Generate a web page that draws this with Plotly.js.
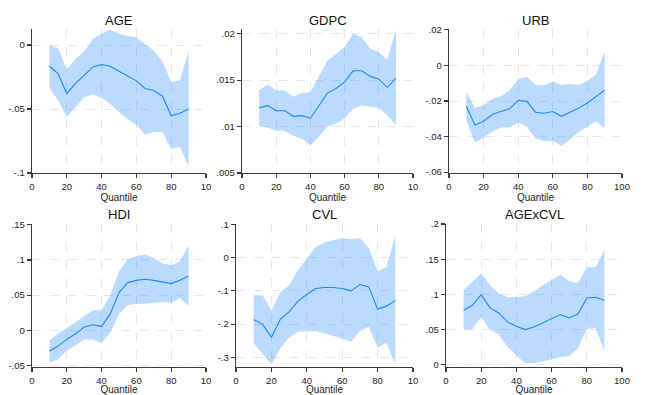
<!DOCTYPE html>
<html>
<head>
<meta charset="utf-8">
<script src="https://cdn.plot.ly/plotly-3.0.1.min.js"></script>
<style>html,body{margin:0;padding:0;background:#fff}#chart{width:645px;height:395px}</style>
</head>
<body>
<div id="chart"></div>
<script>
const quantiles = [10,15,20,25,30,35,40,45,50,55,60,65,70,75,80,85,90];

const ageCoef  = [-0.0166,-0.0224,-0.038,-0.030,-0.0237,-0.0171,-0.0153,-0.0166,-0.0205,-0.0245,-0.028,-0.034,-0.0355,-0.040,-0.0553,-0.0534,-0.050];
const ageUpper = [0.000,-0.0026,-0.019,-0.011,-0.005,0.0045,0.009,0.0118,0.009,0.007,0.0058,0.0005,-0.0045,-0.013,-0.029,-0.0276,-0.005];
const ageLower = [-0.0334,-0.0434,-0.056,-0.048,-0.0408,-0.0387,-0.0413,-0.046,-0.0526,-0.058,-0.0624,-0.070,-0.068,-0.068,-0.081,-0.0795,-0.0947];

const gdpcCoef  = [0.0120,0.01225,0.0117,0.0117,0.0111,0.01117,0.0109,0.0123,0.0136,0.0141,0.0148,0.0160,0.0160,0.0154,0.0151,0.0142,0.0152];
const gdpcUpper = [0.0139,0.0145,0.01387,0.01387,0.0132,0.0136,0.0137,0.0154,0.0171,0.0178,0.0186,0.0200,0.0196,0.0184,0.0180,0.0172,0.0204];
const gdpcLower = [0.0101,0.0099,0.00955,0.00955,0.0090,0.0087,0.0080,0.0089,0.0100,0.0103,0.0109,0.0119,0.0123,0.0121,0.0120,0.0112,0.0102];

const urbCoef  = [-0.023,-0.0335,-0.0314,-0.0276,-0.0259,-0.0244,-0.0196,-0.0202,-0.0263,-0.0269,-0.0259,-0.0286,-0.0263,-0.024,-0.0211,-0.0177,-0.0139];
const urbUpper = [-0.0149,-0.0238,-0.0225,-0.0187,-0.0173,-0.0139,-0.0076,-0.0063,-0.011,-0.011,-0.0091,-0.011,-0.0105,-0.011,-0.0086,-0.0053,0.008];
const urbLower = [-0.031,-0.0434,-0.0406,-0.0371,-0.0349,-0.0349,-0.032,-0.0345,-0.0411,-0.0425,-0.0425,-0.0453,-0.0415,-0.0373,-0.0345,-0.0314,-0.0354];

const hdiCoef  = [-0.0294,-0.0223,-0.0128,-0.0047,0.0047,0.008,0.0057,0.0237,0.0536,0.0678,0.071,0.0725,0.071,0.0687,0.0664,0.071,0.0773];
const hdiUpper = [-0.0142,-0.0047,0.0033,0.0118,0.0204,0.0284,0.0284,0.0498,0.0839,0.1005,0.1057,0.1076,0.1028,0.0948,0.0924,0.0981,0.1209];
const hdiLower = [-0.046,-0.0412,-0.0284,-0.0213,-0.0128,-0.0128,-0.018,-0.0033,0.0237,0.0355,0.0379,0.0379,0.0393,0.0403,0.0393,0.046,0.0346];

const cvlCoef  = [-0.186,-0.200,-0.240,-0.186,-0.163,-0.131,-0.111,-0.093,-0.090,-0.090,-0.093,-0.100,-0.081,-0.088,-0.155,-0.146,-0.129];
const cvlUpper = [-0.113,-0.113,-0.160,-0.105,-0.083,-0.038,-0.003,0.032,0.045,0.052,0.059,0.055,0.059,0.029,-0.041,-0.028,0.065];
const cvlLower = [-0.258,-0.288,-0.321,-0.273,-0.241,-0.223,-0.221,-0.221,-0.228,-0.235,-0.243,-0.253,-0.221,-0.208,-0.270,-0.256,-0.321];

const axcCoef  = [0.0775,0.0846,0.0998,0.0809,0.0738,0.061,0.0548,0.0501,0.0539,0.0596,0.0652,0.0714,0.0667,0.0723,0.095,0.096,0.0913];
const axcUpper = [0.1059,0.1177,0.1296,0.113,0.1012,0.096,0.096,0.0974,0.1045,0.113,0.121,0.1281,0.1187,0.1163,0.1385,0.1385,0.1636];
const axcLower = [0.0501,0.051,0.0681,0.0501,0.043,0.0255,0.0132,0.0024,0.0028,0.0052,0.0076,0.0113,0.0123,0.0241,0.051,0.0525,0.0194];

const titles = ['AGE','GDPC','URB','HDI','CVL','AGExCVL'];
const xTickVals = [0,20,40,60,80,100];
const xTickTextShort = ['0','20','40','60','80','10'];
const xTickTextFull = ['0','20','40','60','80','100'];

const yTicks = [
  {vals:[-0.1,-0.05,0], text:['-.1','-.05','0']},
  {vals:[0.005,0.01,0.015,0.02], text:['.005','.01','.015','.02']},
  {vals:[-0.06,-0.04,-0.02,0,0.02], text:['-.06','-.04','-.02','0','.02']},
  {vals:[-0.05,0,0.05,0.1,0.15], text:['-.05','0','.05','.1','.15']},
  {vals:[-0.3,-0.2,-0.1,0,0.1], text:['-.3','-.2','-.1','0','.1']},
  {vals:[0,0.05,0.1,0.15,0.2], text:['0','.05','.1','.15','.2']}
];

const series = [
  [ageCoef, ageUpper, ageLower],
  [gdpcCoef, gdpcUpper, gdpcLower],
  [urbCoef, urbUpper, urbLower],
  [hdiCoef, hdiUpper, hdiLower],
  [cvlCoef, cvlUpper, cvlLower],
  [axcCoef, axcUpper, axcLower]
];

// layout geometry (pixels)
const W = 645, H = 395;
const xPix = [[32,206],[242,413],[449,622],[32,206],[236,413],[446,622]];
const yPix = [[29,173],[29,173],[29,173],[224,367],[224,367],[224,367]];
const yRanges = [[-0.1,0.0125],[0.005,0.0205],[-0.0605,0.0205],[-0.052,0.151],[-0.329,0.101],[-0.003,0.2]];

const bandColor = 'rgba(26,133,255,0.3)';
const lineColor = '#1a85ff';
const font = 'Liberation Sans, Arial, sans-serif';

const data = [];
const layout = {
  width: W, height: H,
  margin: {l:0, r:0, t:0, b:0},
  paper_bgcolor: '#fff', plot_bgcolor: '#fff',
  showlegend: false,
  font: {family: font, color: '#222', size: 9},
  annotations: []
};

for (let i = 0; i < 6; i++) {
  const sfx = i === 0 ? '' : String(i + 1);
  const xa = 'x' + sfx, ya = 'y' + sfx;
  const [c, u, l] = series[i];
  data.push({x: quantiles, y: u, xaxis: xa, yaxis: ya, mode: 'lines', line: {width: 0, color: bandColor}, hoverinfo: 'skip'});
  data.push({x: quantiles, y: l, xaxis: xa, yaxis: ya, mode: 'lines', line: {width: 0, color: bandColor}, fill: 'tonexty', fillcolor: bandColor, hoverinfo: 'skip'});
  data.push({x: quantiles, y: c, xaxis: xa, yaxis: ya, mode: 'lines', line: {width: 1.1, color: lineColor}});

  const xd = [xPix[i][0] / W, xPix[i][1] / W];
  const yd = [1 - yPix[i][1] / H, 1 - yPix[i][0] / H];
  const full = (i === 2 || i === 5);
  layout['xaxis' + sfx] = {
    domain: xd, anchor: ya, range: [0, 100],
    tickmode: 'array', tickvals: xTickVals, ticktext: full ? xTickTextFull : xTickTextShort,
    ticks: 'outside', ticklen: 4, tickcolor: '#3a3a3a', tickwidth: 1.2,
    showline: true, linecolor: '#3a3a3a', linewidth: 1.3,
    showgrid: true, gridcolor: '#e6e6e6', griddash: 'dash', gridwidth: 1,
    zeroline: false,
    tickfont: {size: 9.5, color: '#222', family: font},
    title: {text: 'Quantile', font: {size: 10, color: '#222', family: font}, standoff: 2}
  };
  layout['yaxis' + sfx] = {
    domain: yd, anchor: xa, range: yRanges[i],
    tickmode: 'array', tickvals: yTicks[i].vals, ticktext: yTicks[i].text,
    ticks: 'outside', ticklen: 4, tickcolor: '#3a3a3a', tickwidth: 1.2,
    showline: true, linecolor: '#3a3a3a', linewidth: 1.3,
    showgrid: true, gridcolor: '#e6e6e6', griddash: 'dash', gridwidth: 1,
    zeroline: false,
    tickfont: {size: 9.5, color: '#222', family: font}
  };
  layout.annotations.push({
    text: titles[i], xref: 'paper', yref: 'paper',
    x: (xd[0] + xd[1]) / 2, y: 1 - (i < 3 ? 20 : 214) / H,
    xanchor: 'center', yanchor: 'middle', showarrow: false,
    font: {size: 13, color: '#111', family: font}
  });
}

Plotly.newPlot('chart', data, layout, {staticPlot: true, displayModeBar: false});
</script>
</body>
</html>
